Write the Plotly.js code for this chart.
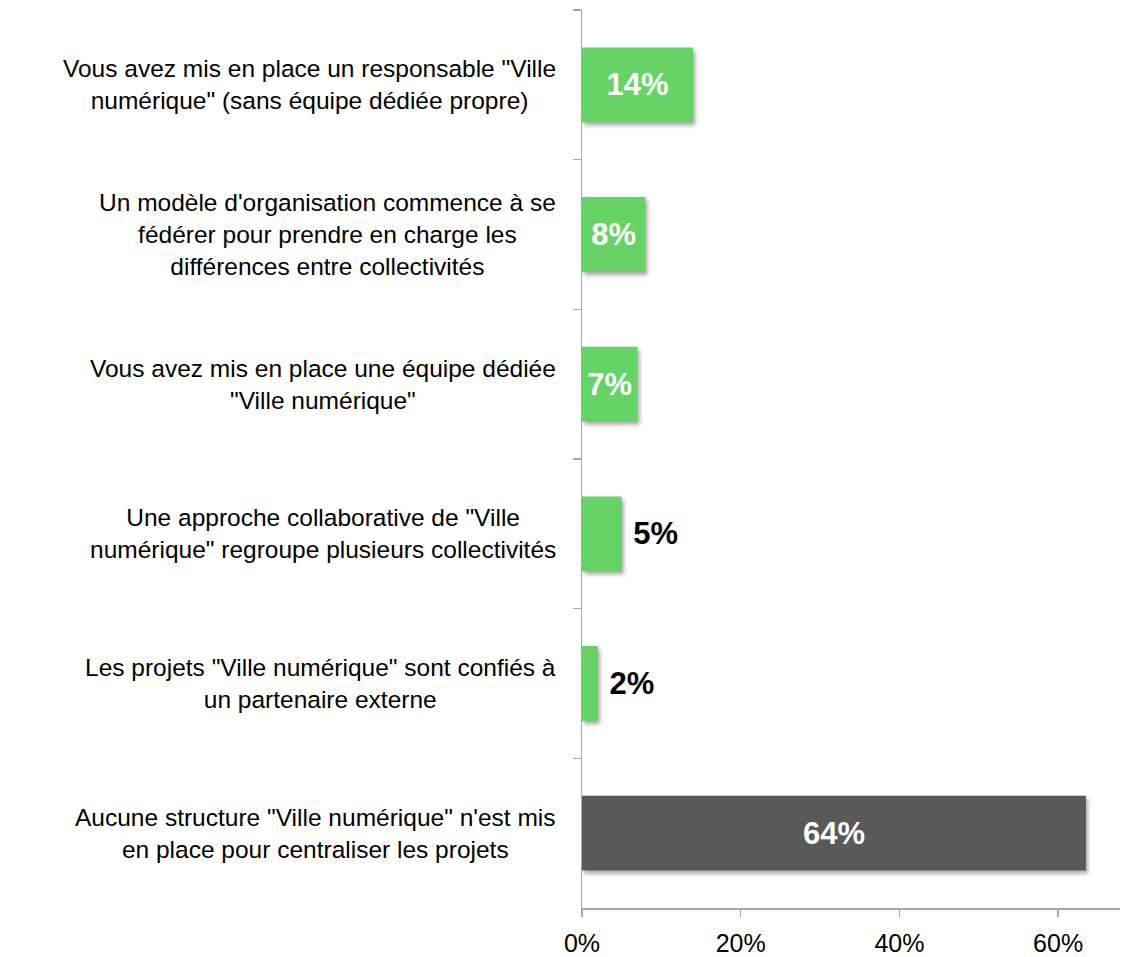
<!DOCTYPE html>
<html>
<head>
<meta charset="utf-8">
<script src="https://cdn.plot.ly/plotly-3.0.1.min.js"></script>
<style>
html,body{margin:0;padding:0;background:#fff;}
#chart{width:1122px;height:957px;}
.bars path{filter:drop-shadow(2px 3px 2px rgba(0,0,0,0.35));}
</style>
</head>
<body>
<div id="chart"></div>
<script>
const categories = [
  'Vous avez mis en place un responsable "Ville<br>numérique" (sans équipe dédiée propre)',
  "Un modèle d'organisation commence à se<br>fédérer pour prendre en charge les<br>différences entre collectivités",
  'Vous avez mis en place une équipe dédiée<br>"Ville numérique"',
  'Une approche collaborative de "Ville<br>numérique" regroupe plusieurs collectivités',
  'Les projets "Ville numérique" sont confiés à<br>un partenaire externe',
  'Aucune structure "Ville numérique" n\'est mis<br>en place pour centraliser les projets'
];
const values = [0.14, 0.08, 0.07, 0.05, 0.02, 0.635];
const barColors = ['#66D366', '#66D366', '#66D366', '#66D366', '#66D366', '#595959'];
const labelPositions = ['inside', 'inside', 'inside', 'outside', 'outside', 'inside'];
const labelColors = ['#FFFFFF', '#FFFFFF', '#FFFFFF', '#000000', '#000000', '#FFFFFF'];
const xTickValues = [0, 0.2, 0.4, 0.6];
const xTickLabels = ['0%', '20%', '40%', '60%'];

const trace = {
  type: 'bar',
  orientation: 'h',
  y: categories,
  x: values,
  width: 0.5,
  marker: {color: barColors, line: {width: 0}},
  text: values.map((v, i) => (labelPositions[i] === 'outside' ? '\u00a0' : '') + Math.round(v * 100) + '%'),
  textposition: labelPositions,
  insidetextanchor: 'middle',
  constraintext: 'none',
  cliponaxis: false,
  textfont: {family: 'Arial, Liberation Sans, sans-serif', size: 31, color: labelColors, weight: 'bold'},
  hoverinfo: 'none'
};

const annotations = categories.map(c => ({
  xref: 'paper', yref: 'y', x: 0, y: c,
  xanchor: 'right', yanchor: 'middle', xshift: -24,
  align: 'center', showarrow: false, text: c,
  font: {family: 'Arial, Liberation Sans, sans-serif', size: 24.5, color: '#000'}
}));

const layout = {
  width: 1122, height: 957,
  margin: {l: 582, r: 2, t: 10, b: 49},
  paper_bgcolor: '#fff', plot_bgcolor: '#fff',
  showlegend: false,
  xaxis: {
    range: [0, 0.678],
    tickvals: xTickValues, ticktext: xTickLabels,
    ticks: 'outside', ticklen: 7, tickcolor: '#A6A6A6', tickwidth: 1.5,
    ticklabelstandoff: 5,
    showline: true, linecolor: '#A6A6A6', linewidth: 1.5,
    showgrid: false, zeroline: false,
    tickfont: {family: 'Arial, Liberation Sans, sans-serif', size: 25, color: '#000'}
  },
  yaxis: {
    type: 'category', autorange: 'reversed',
    tickson: 'boundaries', ticks: 'outside', ticklen: 8, tickcolor: '#A6A6A6', tickwidth: 1.5,
    showline: true, linecolor: '#A6A6A6', linewidth: 1.5,
    showgrid: false, zeroline: false, showticklabels: false
  },
  annotations: annotations
};

Plotly.newPlot('chart', [trace], layout, {staticPlot: true});
</script>
</body>
</html>
